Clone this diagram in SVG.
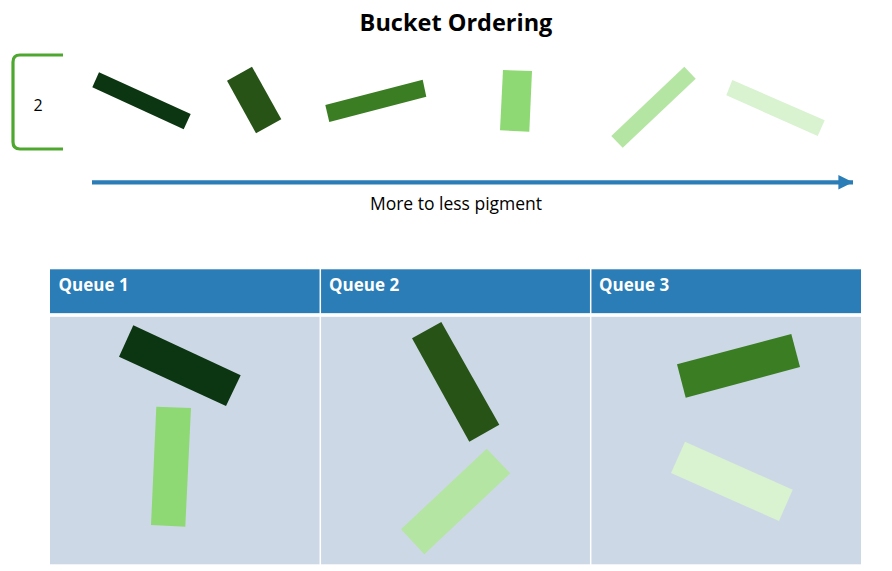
<svg xmlns="http://www.w3.org/2000/svg" width="892" height="571" viewBox="0 0 892 571">
<defs>
<style>
.t{font-family:"Open Sans","Liberation Sans",sans-serif;fill:#000}
.h{font-family:"Open Sans","Liberation Sans",sans-serif;font-weight:bold;fill:#fff;font-size:17px}
.g1{fill:#0c3612}.g2{fill:#275317}.g3{fill:#3b7d23}.g4{fill:#8ed973}.g5{fill:#b4e5a2}.g6{fill:#d9f2d0}
.hd{fill:#2a7db6}.bd{fill:#cdd8e6}
</style>
<marker id="ah" viewBox="0 0 10 10" refX="10" refY="5" markerWidth="3.6" markerHeight="3.4" markerUnits="strokeWidth" orient="auto"><path d="M0,0 L10,5 L0,10 z" fill="#2a7db6"/></marker>
</defs>
<rect width="892" height="571" fill="#fff"/>
<text class="t" x="456" y="31" text-anchor="middle" font-size="23.5" font-weight="bold">Bucket Ordering</text>
<g id="bracket">
<path d="M63,55 L20,55 Q13,55 13,62 L13,142 Q13,149 20,149 L63,149" fill="none" stroke="#4ea72e" stroke-width="3.2"/>
<text class="t" x="38" y="111" text-anchor="middle" font-size="16">2</text>
</g>
<g id="bar1"><polygon class="g1" points="99,72.3 190.7,114 183.7,129.3 92.3,87.3"/></g>
<g id="bar2"><polygon class="g2" points="227,80.7 252,66.7 281.3,119.3 256,133.3"/></g>
<g id="bar3"><polygon class="g3" points="325.3,105 422.7,79.7 426.3,96.7 329.3,122"/></g>
<g id="bar4"><polygon class="g4" points="503,70 532,71 529.3,131.7 500,130.3"/></g>
<g id="bar5"><polygon class="g5" points="611.3,136 684.3,66.7 695.7,78.7 622.7,147.7"/></g>
<g id="bar6"><polygon class="g6" points="732.3,80 824.7,120.3 817.7,136 726.3,95.3"/></g>
<g id="connectors">
<line x1="92" y1="182.3" x2="853" y2="182.3" stroke="#2a7db6" stroke-width="4.3" marker-end="url(#ah)"/>
</g>
<text class="t" x="456" y="209.5" text-anchor="middle" font-size="17.5">More to less pigment</text>
<g id="table">
<rect class="hd" x="50" y="269.3" width="811" height="44"/>
<rect class="bd" x="50" y="316.7" width="811" height="247.6"/>
<line x1="50" y1="315" x2="861" y2="315" stroke="#fff" stroke-width="3"/>
<line x1="320.3" y1="269" x2="320.3" y2="565" stroke="#fff" stroke-width="1.5"/>
<line x1="590.7" y1="269" x2="590.7" y2="565" stroke="#fff" stroke-width="1.5"/>
</g>
<g id="queue1">
<text class="h" x="58.5" y="291">Queue 1</text>
<polygon class="g1" points="133.3,325.3 240.7,375.3 226,406 119,356.7"/>
<polygon class="g4" points="156.3,406.7 191,408 185.3,526.7 151,525"/>
</g>
<g id="queue2">
<text class="h" x="329" y="291">Queue 2</text>
<polygon class="g2" points="412,338.3 441.3,322 499.3,424.7 469.3,441.7"/>
<polygon class="g5" points="401,529.3 424.3,554.3 510.3,473.3 486.7,448.7"/>
</g>
<g id="queue3">
<text class="h" x="599" y="291">Queue 3</text>
<polygon class="g3" points="677,364.3 791.3,334 800,367 685.7,397.7"/>
<polygon class="g6" points="685,441.7 792.7,489.7 779,521 671,473"/>
</g>
</svg>
